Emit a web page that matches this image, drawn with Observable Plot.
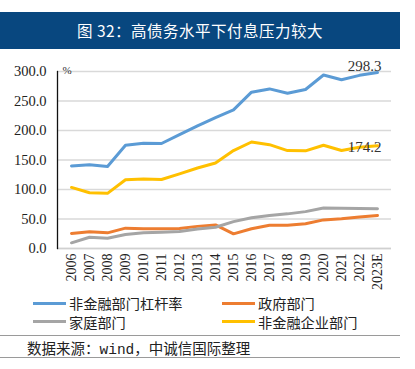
<!DOCTYPE html>
<html>
<head>
<meta charset="utf-8">
<script src="https://cdn.jsdelivr.net/npm/d3@7"></script>
<script src="https://cdn.jsdelivr.net/npm/@observablehq/plot@0.6"></script>
<style>
  html, body { margin: 0; padding: 0; background: #fff; }
  body { width: 415px; height: 369px; position: relative; overflow: hidden; font-family: "Noto Sans CJK SC", sans-serif; }
  #title { position: absolute; left: 0; top: 12px; width: 400px; height: 37px; background: #08477f; color: #fff;
           font-size: 15.5px; line-height: 37px; text-align: center; letter-spacing: 0.5px; }
  #chart { position: absolute; left: 0; top: 49px; }
  .leg { position: absolute; font-size: 14.2px; color: #222; line-height: 16px; white-space: nowrap; }
  .sw { position: absolute; height: 3px; width: 33px; }
  .hr { position: absolute; left: 0; width: 400px; height: 1px; background: #9a9a9a; }
  #src { position: absolute; left: 27px; top: 339px; font-size: 14.5px; color: #222; line-height: 18px; white-space: nowrap; }
</style>
</head>
<body>
<div id="title">图 32：高债务水平下付息压力较大</div>
<div id="chart"></div>
<div id="legend"></div>
<div class="hr" style="top:335px"></div>
<div id="src">数据来源：<span style="font-family:'Liberation Mono',monospace">wind</span>，中诚信国际整理</div>
<div class="hr" style="top:357px"></div>
<script>
const years = ["2006","2007","2008","2009","2010","2011","2012","2013","2014","2015","2016","2017","2018","2019","2020","2021","2022","2023E"];
const total = [140, 142, 139, 175, 178.5, 178, 193, 208, 222, 235, 265, 270.5, 263, 269.5, 294, 286, 293.5, 298.3];
const government = [25.5, 28.5, 26.5, 34.5, 33.5, 33.5, 34, 37.5, 40, 24.8, 33.5, 39.5, 39.5, 42, 48.5, 50.5, 53.5, 56];
const household = [9.6, 19, 17.5, 23.7, 26.5, 27.5, 29, 33, 36, 45.5, 52, 56, 58.7, 62.5, 68.5, 68.3, 68, 67.5];
const corporate = [103.5, 94.5, 93.5, 116.5, 118, 117, 126.5, 136.5, 145, 166, 180.5, 176, 166, 165.5, 175, 166, 171.5, 174.2];
const names = ["非金融部门杠杆率", "政府部门", "家庭部门", "非金融企业部门"];
const colors = ["#5b9bd5", "#ed7d31", "#a5a5a5", "#ffc000"];
const yTicks = [0, 50, 100, 150, 200, 250, 300];

const seriesValues = [total, government, household, corporate];
const data = [];
seriesValues.forEach((vals, i) => vals.forEach((v, j) => data.push({ name: names[i], year: years[j], value: v })));
const last = years.length - 1;
const fmt = d3.format(".1f");

const chart = Plot.plot({
  width: 415,
  height: 247,
  marginLeft: 57,
  marginRight: 24,
  marginTop: 22,
  marginBottom: 48,
  x: { type: "point", domain: years, padding: 0.5, label: null },
  y: { domain: [0, 300], label: null },
  color: { domain: names, range: colors },
  style: { fontFamily: "'Liberation Serif', serif", fontSize: "14px", color: "#222", background: "transparent" },
  marks: [
    Plot.gridY(yTicks, { stroke: "#d9d9d9", strokeOpacity: 1, strokeWidth: 1.3 }),
    Plot.ruleY([0], { stroke: "#d0d0d0", strokeWidth: 1.3 }),
    Plot.axisY(yTicks, { tickSize: 0, tickPadding: 11, tickFormat: fmt, fontSize: 14.5 }),
    Plot.axisX({ tickSize: 0, tickRotate: -90, tickPadding: 5, fontSize: 14 }),
    Plot.frame({ anchor: "left", stroke: "#111", strokeWidth: 1.3 }),
    Plot.text(["%"], { frameAnchor: "top-left", dx: 5, dy: -5, fontSize: 11, fill: "#333" }),
    Plot.line(data, { x: "year", y: "value", z: "name", stroke: "name", strokeWidth: 3, strokeLinejoin: "round" }),
    Plot.text([{ year: years[last], value: total[last] }], { x: "year", y: "value", text: d => fmt(d.value), textAnchor: "end", dx: 4, dy: -6, fontSize: 15, fill: "#333" }),
    Plot.text([{ year: years[last], value: corporate[last] }], { x: "year", y: "value", text: d => fmt(d.value), textAnchor: "end", dx: 4, dy: 1, fontSize: 15, fill: "#333" })
  ]
});
document.getElementById("chart").appendChild(chart);

const legendPos = [
  { x: 33, y: 303 }, { x: 222, y: 303 }, { x: 33, y: 321.5 }, { x: 222, y: 321.5 }
];
const leg = document.getElementById("legend");
names.forEach((n, i) => {
  const p = legendPos[i];
  const sw = document.createElement("div");
  sw.className = "sw";
  sw.style.left = p.x + "px";
  sw.style.top = (p.y - 1.5) + "px";
  sw.style.background = colors[i];
  leg.appendChild(sw);
  const t = document.createElement("div");
  t.className = "leg";
  t.style.left = (p.x + 36) + "px";
  t.style.top = (p.y - 8) + "px";
  t.textContent = n;
  leg.appendChild(t);
});
</script>
</body>
</html>
